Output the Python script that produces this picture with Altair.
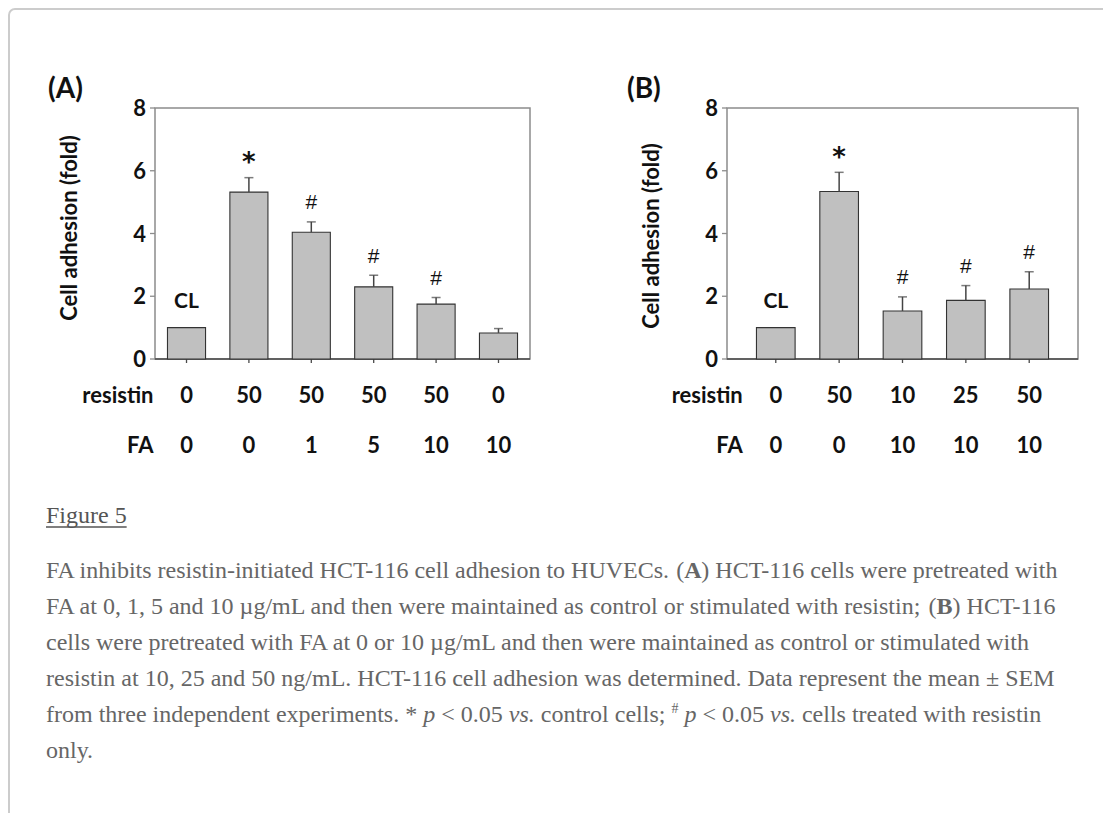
import altair as alt
import pandas as pd

# ------------------------------------------------------------------ data
A_resistin = ["0", "50", "50", "50", "50", "0"]
A_fa = ["0", "0", "1", "5", "10", "10"]
A_mean = [1.00, 5.32, 4.04, 2.30, 1.75, 0.83]
A_sem = [0.00, 0.46, 0.33, 0.37, 0.21, 0.14]
A_sig = ["CL", "*", "#", "#", "#", ""]

B_resistin = ["0", "50", "10", "25", "50"]
B_fa = ["0", "0", "10", "10", "10"]
B_mean = [1.00, 5.34, 1.53, 1.87, 2.23]
B_sem = [0.00, 0.61, 0.45, 0.47, 0.55]
B_sig = ["CL", "*", "#", "#", "#"]

Y_TICKS = [0, 2, 4, 6, 8]
PANEL_TAGS = ["(A)", "(B)"]
Y_TITLE = "Cell adhesion (fold)"
ROW_NAMES = ["resistin", "FA"]
FIG_LABEL = "Figure 5"
CAPTION = [
    [("FA inhibits resistin-initiated HCT-116 cell adhesion to HUVECs.", "r"), (" (", "r"), ("A", "b"),
     (") HCT-116 cells were pretreated with", "r")],
    [("FA at 0, 1, 5 and 10 \u00b5g/mL and then were maintained as control or stimulated with resistin;", "r"),
     (" (", "r"), ("B", "b"), (") HCT-116", "r")],
    [("cells were pretreated with FA at 0 or 10 \u00b5g/mL and then were maintained as control or stimulated with", "r")],
    [("resistin at 10, 25 and 50 ng/mL. HCT-116 cell adhesion was determined. Data represent the mean \u00b1 SEM", "r")],
    [("from three independent experiments. * ", "r"), ("p", "i"), (" < 0.05 ", "r"), ("vs.", "i"),
     (" control cells; ", "r"), ("#", "s"), (" ", "r"), ("p", "i"), (" < 0.05 ", "r"), ("vs.", "i"),
     (" cells treated with resistin", "r")],
    [("only.", "r")],
]

# ------------------------------------------------------------------ style
SANS = "Lato"
SERIF = "Liberation Serif"
INK = "#111111"
YR = [351, 100]           # pixel range of the value axis (0 .. 8)

# Times metrics (1/1000 em) for laying out the caption segments
TR = {' ': 250, '#': 500, '(': 333, ')': 333, '*': 500, ',': 250, '-': 333, '.': 250, '/': 278,
      ';': 278, '<': 564, '\u00b5': 500, '\u00b1': 564,
      'A': 722, 'B': 667, 'C': 667, 'D': 722, 'E': 611, 'F': 556, 'G': 722, 'H': 722, 'I': 333,
      'L': 611, 'M': 889, 'N': 722, 'S': 556, 'T': 611, 'U': 722, 'V': 722,
      'a': 444, 'b': 500, 'c': 444, 'd': 500, 'e': 444, 'f': 333, 'g': 500, 'h': 500, 'i': 278,
      'j': 278, 'k': 500, 'l': 278, 'm': 778, 'n': 500, 'o': 500, 'p': 500, 'q': 500, 'r': 333,
      's': 389, 't': 278, 'u': 500, 'v': 500, 'w': 722, 'x': 500, 'y': 500, 'z': 444}
for d in "0123456789":
    TR[d] = 500
TB = dict(TR, A=722, B=667)
TI = dict(TR, p=500, v=444, s=389)
TABLES = {"r": TR, "b": TB, "i": TI, "s": TR}
SIZES = {"r": 24, "b": 24, "i": 24, "s": 14}
FIT = [0.992, 1.0, 1.0, 1.0, 1.0, 1.0]   # per-line correction between metric table and rendered face


def panel(resistin, fa, mean, sem, sig, L, R, pad_outer):
    n = len(mean)
    keys = [f"c{i}" for i in range(n)]
    df = pd.DataFrame({"k": keys, "resistin": resistin, "fa": fa,
                       "mean": mean, "sem": sem, "sig": sig})
    xs = alt.Scale(domain=keys, range=[L, R], paddingInner=0.39, paddingOuter=pad_outer)
    ys = alt.Scale(domain=[0, 8], range=YR)
    X = alt.X("k:N", scale=xs, axis=None)
    base = alt.Chart(df).transform_calculate(top="datum.mean + datum.sem")

    frame = alt.Chart(pd.DataFrame({"a": [0]})).mark_rect(
        fillOpacity=0, stroke="#8c8c8c", strokeWidth=1.5).encode(
        x=alt.value(L), x2=alt.value(R), y=alt.value(YR[1]), y2=alt.value(YR[0]))
    bottom = alt.Chart(pd.DataFrame({"a": [0]})).mark_rule(
        color="#4a4a4a", strokeWidth=1.5).encode(
        x=alt.value(L), x2=alt.value(R), y=alt.value(YR[0]))

    ticks_df = pd.DataFrame({"v": Y_TICKS})
    yticks = alt.Chart(ticks_df).mark_rule(color="#8c8c8c", strokeWidth=1.3).encode(
        y=alt.Y("v:Q", scale=ys, axis=None), x=alt.value(L - 5), x2=alt.value(L))
    ylabels = alt.Chart(ticks_df).mark_text(
        align="right", baseline="alphabetic", dy=8, font=SANS, fontSize=22,
        fontWeight="bold", color=INK).encode(
        y=alt.Y("v:Q", scale=ys, axis=None), x=alt.value(L - 9), text="v:N")

    xticks = base.mark_rule(color="#4a4a4a", strokeWidth=1.3).encode(
        x=X, y=alt.value(YR[0]), y2=alt.value(YR[0] + 4))

    bars = base.mark_bar(fill="#c0c0c0", stroke="#333333", strokeWidth=1.1).encode(
        x=X, y=alt.Y("mean:Q", scale=ys, axis=None))
    err = base.transform_filter("datum.sem > 0").mark_rule(
        color="#444444", strokeWidth=1.5).encode(
        x=X, y=alt.Y("mean:Q", scale=ys, axis=None), y2="top:Q")
    caps = base.transform_filter("datum.sem > 0").mark_tick(
        color="#444444", size=9, thickness=1.5).encode(
        x=X, y=alt.Y("top:Q", scale=ys, axis=None))

    hash_ = base.transform_filter("datum.sig == '#'").transform_calculate(
        lab="datum.top + 0.64").mark_text(
        font="Liberation Sans", fontSize=21, baseline="alphabetic", dy=7.5, color=INK).encode(
        x=X, y=alt.Y("lab:Q", scale=ys, axis=None), text="sig:N")
    star = base.transform_filter("datum.sig == '*'").transform_calculate(
        lab="datum.top + 0.69").mark_text(
        font="DejaVu Sans", fontSize=26, fontWeight="bold", baseline="alphabetic", dy=15,
        color=INK).encode(
        x=X, y=alt.Y("lab:Q", scale=ys, axis=None), text="sig:N")
    cl = base.transform_filter("datum.sig == 'CL'").transform_calculate(
        lab="datum.top + 0.87").mark_text(
        font=SANS, fontSize=21, fontWeight="bold", baseline="alphabetic", dy=7.5, color=INK).encode(
        x=X, y=alt.Y("lab:Q", scale=ys, axis=None), text="sig:N")

    row1 = base.mark_text(font=SANS, fontSize=22, fontWeight="bold", baseline="alphabetic",
                          color=INK).encode(x=X, y=alt.value(395), text="resistin:N")
    row2 = base.mark_text(font=SANS, fontSize=22, fontWeight="bold", baseline="alphabetic",
                          color=INK).encode(x=X, y=alt.value(445), text="fa:N")
    head = base.transform_filter("datum.k == 'c0'").transform_calculate(
        h1=f"'{ROW_NAMES[0]}'", h2=f"'{ROW_NAMES[1]}'")
    head1 = head.mark_text(font=SANS, fontSize=22, fontWeight="bold", baseline="alphabetic",
                           align="right", dx=-33, color=INK).encode(
        x=X, y=alt.value(395), text="h1:N")
    head2 = head.mark_text(font=SANS, fontSize=22, fontWeight="bold", baseline="alphabetic",
                           align="right", dx=-33, color=INK).encode(
        x=X, y=alt.value(445), text="h2:N")

    return alt.layer(frame, bottom, yticks, ylabels, xticks, bars, err, caps,
                     hash_, star, cl, row1, row2, head1, head2)


panelA = panel(A_resistin, A_fa, A_mean, A_sem, A_sig, 147, 522, 0.2)
panelB = panel(B_resistin, B_fa, B_mean, B_sem, B_sig, 719, 1070, 0.465)

# panel tags and y-axis titles
tags = alt.Chart(pd.DataFrame({"t": PANEL_TAGS, "px": [40, 619]})).mark_text(
    font=SANS, fontSize=28, fontWeight="bold", align="left", baseline="alphabetic",
    color=INK).encode(x=alt.X("px:Q", scale=None, axis=None), y=alt.value(90), text="t:N")
ytitles = alt.Chart(pd.DataFrame({"t": [Y_TITLE, Y_TITLE], "px": [62, 644], "py": [220, 228]})).mark_text(
    font=SANS, fontSize=22, fontWeight="bold", align="center", baseline="middle", angle=270,
    color=INK).encode(x=alt.X("px:Q", scale=None, axis=None),
                      y=alt.Y("py:Q", scale=None, axis=None), text="t:N")

# caption layout
CAP_X, CAP_Y0, CAP_LH = 38, 570, 36
rows = []
for li, segs in enumerate(CAPTION):
    cx = CAP_X
    yb = CAP_Y0 + li * CAP_LH
    for txt, st in segs:
        tb, sz = TABLES[st], SIZES[st]
        lead = len(txt) - len(txt.lstrip(" "))
        core = txt.strip(" ")
        if core:
            rows.append({"t": core, "x": cx + lead * tb[" "] * sz / 1000.0,
                         "y": yb - (9 if st == "s" else 0), "st": st})
        cx += sum(tb.get(ch, 500) for ch in txt) * sz / 1000.0 * FIT[li]
cap_df = pd.DataFrame(rows)

cap_layers = []
for st, kw in [("r", {}), ("b", {"fontWeight": "bold"}), ("i", {"fontStyle": "italic"}), ("s", {})]:
    cap_layers.append(
        alt.Chart(cap_df).transform_filter(f"datum.st == '{st}'").mark_text(
            font=SERIF, fontSize=SIZES[st], align="left", baseline="alphabetic",
            color="#666666", **kw).encode(
            x=alt.X("x:Q", scale=None, axis=None), y=alt.Y("y:Q", scale=None, axis=None),
            text="t:N"))

fig_w = sum(TR.get(ch, 500) for ch in FIG_LABEL) * 24 / 1000.0
fig_df = pd.DataFrame({"t": [FIG_LABEL], "x": [CAP_X], "x2": [CAP_X + fig_w]})
fig_text = alt.Chart(fig_df).mark_text(
    font=SERIF, fontSize=24, align="left", baseline="alphabetic", color="#555555").encode(
    x=alt.X("x:Q", scale=None, axis=None), y=alt.value(515), text="t:N")
fig_line = alt.Chart(fig_df).mark_rule(color="#555555", strokeWidth=1.6).encode(
    x=alt.X("x:Q", scale=None, axis=None), x2="x2:Q", y=alt.value(519))

box = alt.Chart(pd.DataFrame({"a": [0]})).mark_rect(
    fillOpacity=0, stroke="#cccccc", strokeWidth=2, cornerRadius=6).encode(
    x=alt.value(1), x2=alt.value(1500), y=alt.value(1), y2=alt.value(1500))

chart = alt.layer(box, fig_text, fig_line, *cap_layers, tags, ytitles, panelA, panelB).resolve_scale(
    x="independent", y="independent").properties(
    width=1095, height=805, padding=0, autosize=alt.AutoSizeParams(type="none"),
    background="white").configure_view(stroke=None)

chart.save("out.html", embed_options={"renderer": "svg", "actions": False})
